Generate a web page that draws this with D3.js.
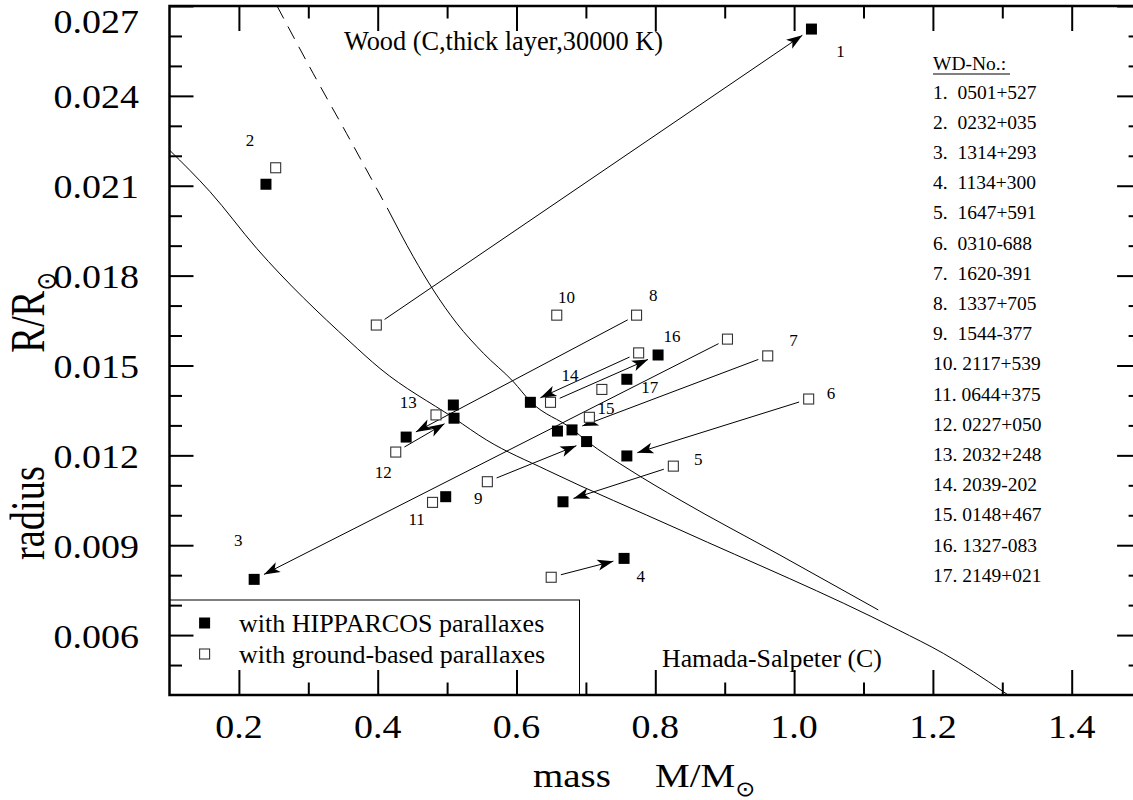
<!DOCTYPE html>
<html>
<head>
<meta charset="utf-8">
<script src="https://cdn.jsdelivr.net/npm/d3@7"></script>
<style>
  html, body { margin: 0; padding: 0; background: #fff; }
  svg { display: block; }
  text { font-family: "Liberation Serif", "Times New Roman", serif; fill: #000; }
</style>
</head>
<body>
<svg id="chart" width="1133" height="800"></svg>
<script>
// ---------------- data ----------------
const wdNumbers = [1,2,3,4,5,6,7,8,9,10,11,12,13,14,15,16,17];
const wdNames = ["0501+527","0232+035","1314+293","1134+300","1647+591","0310-688","1620-391","1337+705","1544-377","2117+539","0644+375","0227+050","2032+248","2039-202","0148+467","1327-083","2149+021"];
// ground-based parallaxes (open squares)
const groundMass   = [0.398, 0.253, 0.904, 0.650, 0.826, 1.021, 0.962, 0.773, 0.558, 0.658, 0.479, 0.426, 0.484, 0.776, 0.705, 0.649, 0.723];
const groundRadius = [0.01635, 0.0216, 0.01588, 0.00793, 0.01164, 0.01388, 0.01532, 0.01668, 0.01112, 0.01668, 0.01043, 0.01211, 0.01335, 0.01542, 0.01327, 0.01377, 0.01420];
// HIPPARCOS parallaxes (filled squares)
const hippMass   = [1.025, 0.239, 0.222, 0.755, 0.667, 0.759, 0.680, 0.441, 0.701, null, 0.498, 0.510, 0.509, 0.620, 0.659, 0.804, 0.759];
const hippRadius = [0.02623, 0.02105, 0.00786, 0.00856, 0.01045, 0.01198, 0.01285, 0.01261, 0.01246, null, 0.01062, 0.01324, 0.01368, 0.01377, 0.01281, 0.01535, 0.01454];
const hasArrow   = [true, false, true, true, true, true, true, true, true, false, false, true, false, true, false, true, false];
// number labels next to the points
const labelMass   = [1.067, 0.216, 0.199, 0.779, 0.862, 1.053, 0.999, 0.797, 0.545, 0.672, 0.456, 0.408, 0.444, 0.677, 0.729, 0.824, 0.792];
const labelRadius = [0.0255, 0.02253, 0.00917, 0.00797, 0.01187, 0.01407, 0.01585, 0.01735, 0.01057, 0.0173, 0.00988, 0.01145, 0.01379, 0.01468, 0.01358, 0.01598, 0.01428];

// Wood (C, thick layer, 30000 K) relation
const woodDashedMass   = [0.255, 0.307, 0.355, 0.4153];
const woodDashedRadius = [0.0270, 0.02475, 0.02275, 0.02019];
const woodMass   = [0.4153, 0.4513, 0.4801, 0.5138, 0.5522, 0.5954, 0.6205, 0.680, 0.7011, 0.7635, 0.8356, 0.9797, 1.1213];
const woodRadius = [0.02019, 0.01863, 0.01752, 0.01641, 0.01541, 0.01446, 0.01379, 0.01288, 0.01248, 0.01151, 0.01051, 0.00867, 0.00684];
// Hamada-Salpeter (C) relation
const hsMass   = [0.1, 0.1584, 0.2256, 0.3601, 0.4033, 0.51, 0.557, 0.6435, 0.8356, 1.1502, 1.215, 1.3015, 1.3085];
const hsRadius = [0.02219, 0.0208, 0.01891, 0.01579, 0.0149, 0.01324, 0.01251, 0.01151, 0.00951, 0.00617, 0.00539, 0.00411, 0.0040];

const xMajorTicks = [0.2, 0.4, 0.6, 0.8, 1.0, 1.2, 1.4];
const xMinorTicks = [0.3, 0.5, 0.7, 0.9, 1.1, 1.3, 1.5];
const xTickLabels = ["0.2", "0.4", "0.6", "0.8", "1.0", "1.2", "1.4"];
const yMajorTicks = [0.006, 0.009, 0.012, 0.015, 0.018, 0.021, 0.024, 0.027];
const yMinorTicks = [0.005, 0.007, 0.008, 0.010, 0.011, 0.013, 0.014, 0.016, 0.017, 0.019, 0.020, 0.022, 0.023, 0.025, 0.026];
const yTickLabels = ["0.006", "0.009", "0.012", "0.015", "0.018", "0.021", "0.024", "0.027"];

const legendLabels = ["with HIPPARCOS parallaxes", "with ground-based parallaxes"];

// ---------------- drawing ----------------
const svg = d3.select("#chart");
svg.append("rect").attr("width", 1133).attr("height", 800).attr("fill", "#fff");

const x = d3.scaleLinear().domain([0.1, 1.5]).range([169.5, 1141.1]);
const y = d3.scaleLinear().domain([0.004, 0.027]).range([695, 6]);

// legend box (drawn first so the axis ticks show over it)
const legend = svg.append("g");
legend.append("rect")
  .attr("x", x(0.1)).attr("y", 600)
  .attr("width", 410).attr("height", y(0.004) - 600)
  .attr("fill", "#fff").attr("stroke", "#000").attr("stroke-width", 1);

// curves
const line = d3.line().x(d => x(d[0])).y(d => y(d[1])).curve(d3.curveMonotoneX);
svg.append("path")
  .datum(woodDashedMass.map((m, i) => [m, woodDashedRadius[i]]))
  .attr("d", line).attr("fill", "none").attr("stroke", "#000")
  .attr("stroke-width", 1).attr("stroke-dasharray", "14,9");
svg.append("path")
  .datum(woodMass.map((m, i) => [m, woodRadius[i]]))
  .attr("d", line).attr("fill", "none").attr("stroke", "#000").attr("stroke-width", 1);
svg.append("path")
  .datum(hsMass.map((m, i) => [m, hsRadius[i]]))
  .attr("d", line).attr("fill", "none").attr("stroke", "#000").attr("stroke-width", 1);

// arrows
svg.append("defs").append("marker")
  .attr("id", "ah").attr("viewBox", "-17 -6 18 12")
  .attr("refX", 0).attr("refY", 0)
  .attr("markerWidth", 18).attr("markerHeight", 12)
  .attr("markerUnits", "userSpaceOnUse").attr("orient", "auto")
  .append("path").attr("d", "M0,0 L-16,-5.5 L-12,0 L-16,5.5 Z").attr("fill", "#000");

const arrows = wdNumbers.map((n, i) => i).filter(i => hasArrow[i]);
svg.append("g").selectAll("line").data(arrows).join("line")
  .each(function (i) {
    const x0 = x(groundMass[i]), y0 = y(groundRadius[i]);
    const x1 = x(hippMass[i]), y1 = y(hippRadius[i]);
    const dx = x1 - x0, dy = y1 - y0, L = Math.hypot(dx, dy);
    const ux = dx / L, uy = dy / L;
    d3.select(this)
      .attr("x1", x0 + ux * 10).attr("y1", y0 + uy * 10)
      .attr("x2", x1 - ux * 11).attr("y2", y1 - uy * 11);
  })
  .attr("stroke", "#000").attr("stroke-width", 1)
  .attr("marker-end", "url(#ah)");

// squares
const S = 11;
svg.append("g").selectAll("rect").data(wdNumbers.map((n, i) => i)).join("rect")
  .attr("x", i => x(groundMass[i]) - S / 2 + 0.5).attr("y", i => y(groundRadius[i]) - S / 2 + 0.5)
  .attr("width", S - 1).attr("height", S - 1)
  .attr("fill", "#fff").attr("stroke", "#333").attr("stroke-width", 1.1);
svg.append("g").selectAll("rect").data(wdNumbers.map((n, i) => i).filter(i => hippMass[i] !== null)).join("rect")
  .attr("x", i => x(hippMass[i]) - S / 2).attr("y", i => y(hippRadius[i]) - S / 2)
  .attr("width", S).attr("height", S).attr("fill", "#000");

// point labels
svg.append("g").selectAll("text").data(wdNumbers.map((n, i) => i)).join("text")
  .attr("x", i => x(labelMass[i])).attr("y", i => y(labelRadius[i]))
  .attr("dy", "0.35em").attr("text-anchor", "middle")
  .attr("font-size", 17).text(i => wdNumbers[i]);

// axes frame
const frame = svg.append("g");
frame.append("rect")
  .attr("x", x(0.1)).attr("y", y(0.027))
  .attr("width", x(1.5) - x(0.1)).attr("height", y(0.004) - y(0.027))
  .attr("fill", "none").attr("stroke", "#000").attr("stroke-width", 2.5);

function ticks(axisFn, scale, values, size, transform) {
  const g = svg.append("g").attr("transform", transform)
    .call(axisFn(scale).tickValues(values).tickSize(size).tickFormat(""));
  g.select(".domain").remove();
  g.selectAll(".tick line").attr("stroke", "#000").attr("stroke-width", 2);
  return g;
}
ticks(d3.axisBottom, x, xMajorTicks, -25, `translate(0,${y(0.004)})`);
ticks(d3.axisBottom, x, xMinorTicks, -12.5, `translate(0,${y(0.004)})`);
ticks(d3.axisTop, x, xMajorTicks, -25, `translate(0,${y(0.027)})`);
ticks(d3.axisTop, x, xMinorTicks, -12.5, `translate(0,${y(0.027)})`);
ticks(d3.axisLeft, y, yMajorTicks, -24, `translate(${x(0.1)},0)`);
ticks(d3.axisLeft, y, yMinorTicks, -12.5, `translate(${x(0.1)},0)`);
ticks(d3.axisRight, y, yMajorTicks, -24, `translate(${x(1.5)},0)`);
ticks(d3.axisRight, y, yMinorTicks, -12.5, `translate(${x(1.5)},0)`);

// tick labels (glyphs slightly compressed vertically, as in the reference)
svg.append("g").selectAll("text").data(xMajorTicks).join("text")
  .attr("transform", d => `translate(${x(d)},${y(0.004) + 43}) scale(1,0.9)`)
  .attr("text-anchor", "middle").attr("font-size", 38)
  .text((d, i) => xTickLabels[i]);
svg.append("g").selectAll("text").data(yMajorTicks).join("text")
  .attr("transform", d => `translate(139,${Math.max(y(d), 20) + 12.5}) scale(1,0.88)`)
  .attr("text-anchor", "end").attr("font-size", 38)
  .text((d, i) => yTickLabels[i]);

// axis titles
svg.append("text").attr("transform", "translate(533,787) scale(1,0.88)").attr("font-size", 39).text("mass");
const xt = svg.append("text").attr("transform", "translate(655,787) scale(1,0.88)").attr("font-size", 39);
xt.append("tspan").text("M/M");
xt.append("tspan").attr("dy", 10).attr("font-family", "DejaVu Sans").attr("font-size", 24).text("\u2299");

svg.append("text").attr("transform", "translate(44,560) rotate(-90) scale(0.8,1)").attr("font-size", 48).text("radius");
const yt = svg.append("text").attr("transform", "translate(44,272) rotate(-90) scale(0.8,1)")
  .attr("text-anchor", "end").attr("font-size", 48);
yt.append("tspan").text("R/R");
yt.append("tspan").attr("dy", 12).attr("font-family", "DejaVu Sans").attr("font-size", 28).text("\u2299");

// annotations
svg.append("text").attr("x", 344).attr("y", 50).attr("font-size", 26.3)
  .text("Wood (C,thick layer,30000 K)");
svg.append("text").attr("x", 662).attr("y", 667).attr("font-size", 25.8)
  .text("Hamada-Salpeter (C)");

// WD list
const list = svg.append("g").attr("font-size", 19.5);
list.append("text").attr("x", 933).attr("y", 70).text("WD-No.:");
list.append("line").attr("x1", 933).attr("x2", 1010).attr("y1", 74).attr("y2", 74)
  .attr("stroke", "#000").attr("stroke-width", 1);
list.selectAll("text.item").data(wdNumbers).join("text").attr("class", "item")
  .attr("x", 933).attr("y", (d, i) => 98.5 + i * 30.2)
  .attr("xml:space", "preserve").style("white-space", "pre")
  .text((d, i) => d + (d < 10 ? ".  " : ". ") + wdNames[i]);

// legend content
legend.append("rect").attr("x", 204.6 - S / 2).attr("y", 623 - S / 2).attr("width", S).attr("height", S).attr("fill", "#000");
legend.append("rect").attr("x", 204.6 - S / 2 + 0.5).attr("y", 654 - S / 2 + 0.5).attr("width", S - 1).attr("height", S - 1)
  .attr("fill", "#fff").attr("stroke", "#333").attr("stroke-width", 1.1);
legend.selectAll("text").data(legendLabels).join("text")
  .attr("x", 239).attr("y", (d, i) => 623 + i * 31).attr("dy", "0.33em")
  .attr("font-size", 26).text(d => d);
</script>
</body>
</html>
